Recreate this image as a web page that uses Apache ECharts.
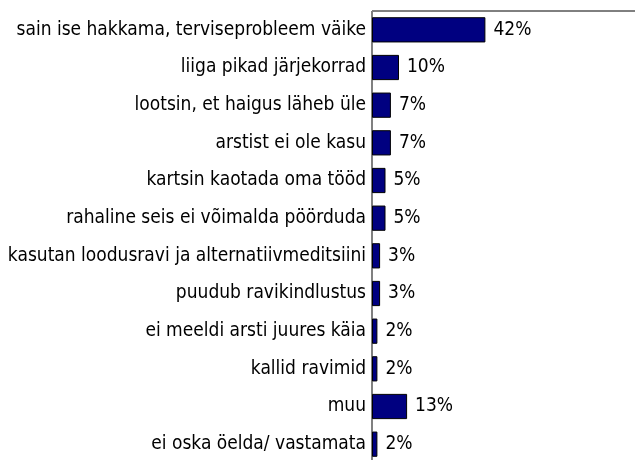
<!DOCTYPE html>
<html>
<head>
<meta charset="utf-8">
<script src="https://cdn.jsdelivr.net/npm/echarts@6/dist/echarts.min.js"></script>
<style>
  html, body { margin: 0; padding: 0; background: #fff; }
  #chart { width: 635px; height: 460px; }
</style>
</head>
<body>
<div id="chart"></div>
<script>
// Reasons for not seeing a doctor, share of respondents (%)
const categories = [
  'sain ise hakkama, terviseprobleem väike',
  'liiga pikad järjekorrad',
  'lootsin, et haigus läheb üle',
  'arstist ei ole kasu',
  'kartsin kaotada oma tööd',
  'rahaline seis ei võimalda pöörduda',
  'kasutan loodusravi ja alternatiivmeditsiini',
  'puudub ravikindlustus',
  'ei meeldi arsti juures käia',
  'kallid ravimid',
  'muu',
  'ei oska öelda/ vastamata'
];
const values = [42, 10, 7, 7, 5, 5, 3, 3, 2, 2, 13, 2];

const FONT = '"Liberation Sans Narrow", "DejaVu Sans Condensed", sans-serif';

const chart = echarts.init(document.getElementById('chart'), null, { renderer: 'canvas' });
chart.setOption({
  animation: false,
  backgroundColor: '#ffffff',
  // plot area runs past the right and bottom edges of the canvas
  grid: {
    left: 372, top: 11, width: 270, height: 452,
    outerBoundsMode: 'none',
    containLabel: false,
    show: true, borderColor: '#000', borderWidth: 1, backgroundColor: 'transparent'
  },
  xAxis: {
    type: 'value', min: 0, max: 100, show: false
  },
  yAxis: {
    type: 'category',
    data: categories,
    inverse: true,
    axisLine: { show: true, lineStyle: { color: '#808080', width: 1 } },
    axisTick: { show: false },
    axisLabel: {
      margin: 6,
      color: '#000',
      fontFamily: FONT,
      fontSize: 19
    },
    splitLine: { show: false }
  },
  series: [{
    type: 'bar',
    data: values,
    barCategoryGap: '33%',
    itemStyle: { color: '#000080', borderColor: '#000', borderWidth: 1 },
    label: {
      show: true,
      position: 'right',
      distance: 8,
      formatter: '{c}%',
      color: '#000',
      fontFamily: FONT,
      fontSize: 19
    }
  }]
});
</script>
</body>
</html>
